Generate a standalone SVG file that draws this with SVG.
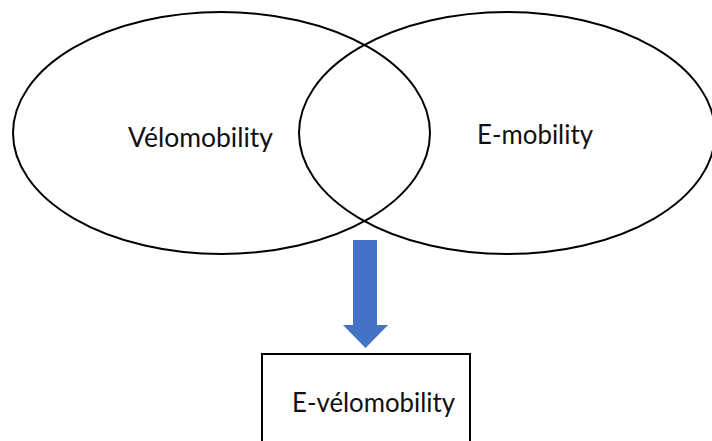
<svg xmlns="http://www.w3.org/2000/svg" width="712" height="441" viewBox="0 0 712 441">
<style>
.ell{fill:none;stroke:#000;stroke-width:2}
.lbl{font-family:Lato,"Open Sans","Liberation Sans",sans-serif;font-size:27px;fill:#111}
.box{fill:#fff;stroke:#000;stroke-width:2}
.arr{fill:#4472C4}
</style>
<rect width="712" height="441" fill="#fff"/>
<g id="velomobility">
<ellipse class="ell" cx="221.5" cy="133" rx="208.5" ry="121"/>
<text class="lbl" x="128" y="147" textLength="145" lengthAdjust="spacingAndGlyphs">Vélomobility</text>
</g>
<g id="emobility">
<ellipse class="ell" cx="507" cy="133" rx="208" ry="121"/>
<text class="lbl" x="477" y="144" textLength="116" lengthAdjust="spacingAndGlyphs">E-mobility</text>
</g>
<g id="connectors">
<polygon class="arr" points="353,240 377,240 377,325 388,325 365.5,348 343,325 353,325"/>
</g>
<g id="evelomobility">
<rect class="box" x="262" y="354" width="208" height="100"/>
<text class="lbl" x="292" y="412" textLength="163" lengthAdjust="spacingAndGlyphs">E-vélomobility</text>
</g>
</svg>
